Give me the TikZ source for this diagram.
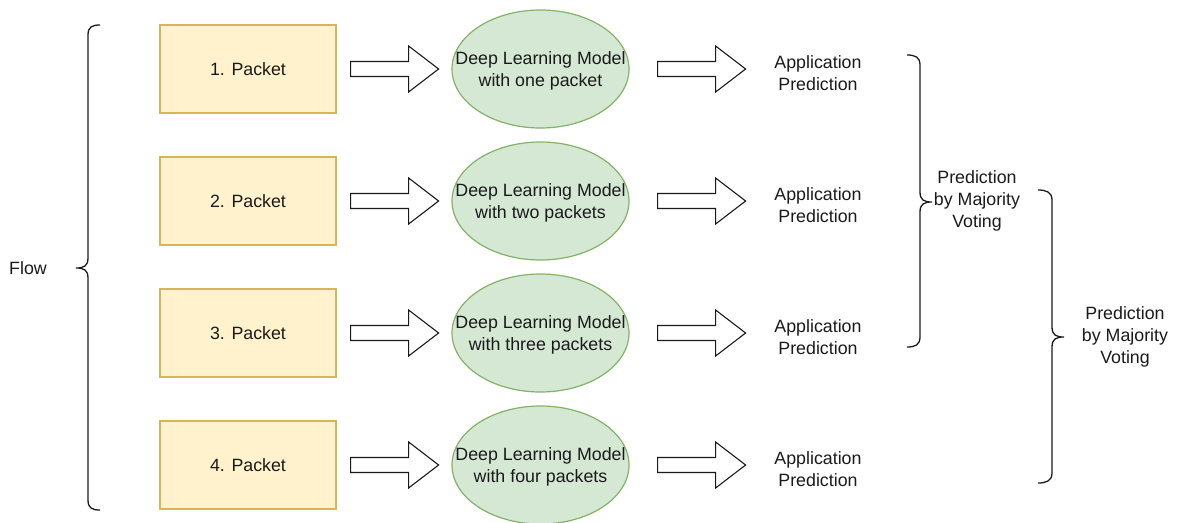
\documentclass[tikz,border=0pt]{standalone}
\usepackage{fontspec}
\setmainfont{Liberation Sans}
\usetikzlibrary{calc,shapes.geometric}

\definecolor{pktfill}{HTML}{FFF2CC}
\definecolor{pktline}{HTML}{D6B656}
\definecolor{mdlfill}{HTML}{D5E8D4}
\definecolor{mdlline}{HTML}{82B366}
\definecolor{ink}{HTML}{1A1A1A}

\tikzset{
  packet/.style={draw=pktline, fill=pktfill, line width=1.2pt,
    minimum width=176pt, minimum height=88pt, inner sep=0pt},
  model/.style={ellipse, draw=mdlline, fill=mdlfill, line width=1.2pt,
    minimum width=177pt, minimum height=118pt, inner xsep=-45pt,
    inner ysep=0pt, text depth=0pt, align=center},
  label/.style={align=center, inner sep=0pt},
  bracket/.style={draw=ink, line width=1.3pt},
  fatarrow/.pic={
    \draw[draw=ink, fill=white, line width=1.1pt, line join=miter]
      (0,-7.5) -- (58,-7.5) -- (58,-23) -- (88,0) -- (58,23)
      -- (58,7.5) -- (0,7.5) -- cycle;
  }
}

\begin{document}
\begin{tikzpicture}[x=1pt, y=-1pt, font=\fontsize{17.8}{22}\selectfont, text=ink]
\useasboundingbox (0,0) rectangle (1180,522);

% four rows: packet box, model, prediction
\foreach \i/\y/\w in {1/69/one packet, 2/201/two packets,
                      3/333/three packets, 4/465/four packets} {
  \node[packet] (p\i) at (248,\y) {\i. Packet};
  \node[model]  (m\i) at (540.5,\y) {Deep Learning Model\\with \w};
  \node[label]  (r\i) at (818,\y+4) {Application\\Prediction};
  \pic at ($(p\i.east)+(14,0)$) {fatarrow};
  \pic at ($(m\i.east)+(28,0)$) {fatarrow};
}

% flow bracket on the left
\node[label] (flow) at (28,268) {Flow};
\draw[bracket] (100,25) .. controls (92,25) and (88,27) .. (88,35)
  -- (88,258) .. controls (88,266) and (84,268) .. (76,268)
  .. controls (84,268) and (88,270) .. (88,278)
  -- (88,500) .. controls (88,508) and (92,510) .. (100,510);

% voting over the first three predictions
\node[label] (v1) at (977,201) {Prediction\\by Majority\\Voting};
\draw[bracket] (907,55) .. controls (915,55) and (920,57) .. (920,65)
  -- (920,192) .. controls (920,200) and (924,202) .. (932,202)
  .. controls (924,202) and (920,204) .. (920,212)
  -- (920,337) .. controls (920,345) and (915,347) .. (907,347);

% voting over the last three predictions
\node[label] (v2) at (1125,337) {Prediction\\by Majority\\Voting};
\draw[bracket] (1038,190) .. controls (1046,190) and (1052,192) .. (1052,200)
  -- (1052,327) .. controls (1052,335) and (1056,337) .. (1064,337)
  .. controls (1056,337) and (1052,339) .. (1052,347)
  -- (1052,473) .. controls (1052,481) and (1046,483) .. (1038,483);
\end{tikzpicture}
\end{document}
